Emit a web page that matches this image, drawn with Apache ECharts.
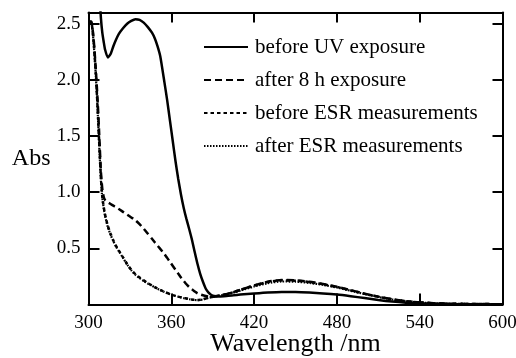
<!DOCTYPE html>
<html>
<head>
<meta charset="utf-8">
<script src="https://cdn.jsdelivr.net/npm/echarts@6/dist/echarts.min.js"></script>
<style>
  html, body { margin: 0; padding: 0; background: #fff; }
  #chart { width: 516px; height: 358px; }
</style>
</head>
<body>
<div id="chart"></div>
<script>
var wavelength = [300, 302, 303, 304, 305, 306, 307, 308, 309, 310, 311, 312, 314, 316, 318, 320, 322, 325, 328, 331,
  334, 337, 340, 343, 346, 348, 350, 352, 355, 357, 359, 361, 363, 365, 367, 369, 371, 373, 375, 377,
  379, 381, 383, 385, 387, 389, 391, 395, 400, 405, 410, 420, 430, 440, 450, 460, 470, 480, 490, 500,
  510, 520, 530, 540, 550, 560, 580, 600];

// off-scale below 306 nm
var beforeUV = [null, null, null, null, null, 3.3, 3.0, 2.75, 2.55, 2.42, 2.34, 2.27, 2.20, 2.23, 2.30, 2.36, 2.41, 2.46, 2.50, 2.525,
  2.54, 2.535, 2.51, 2.47, 2.42, 2.37, 2.30, 2.21, 1.98, 1.82, 1.64, 1.46, 1.28, 1.12, 0.98, 0.86, 0.76, 0.67, 0.575, 0.465,
  0.36, 0.27, 0.20, 0.14, 0.105, 0.085, 0.075, 0.072, 0.076, 0.082, 0.088, 0.098, 0.107, 0.112, 0.111, 0.106, 0.099, 0.089, 0.074, 0.057,
  0.04, 0.026, 0.016, 0.01, 0.006, 0.004, 0.002, 0.001];

var after8h = [2.52, 2.52, 2.45, 2.32, 2.15, 1.95, 1.72, 1.45, 1.18, 1.03, 0.96, 0.93, 0.91, 0.895, 0.88, 0.865, 0.85, 0.825, 0.80, 0.775,
  0.75, 0.715, 0.675, 0.63, 0.585, 0.555, 0.525, 0.495, 0.45, 0.415, 0.38, 0.345, 0.31, 0.275, 0.24, 0.21, 0.18, 0.155, 0.135, 0.115,
  0.10, 0.09, 0.082, 0.075, 0.07, 0.068, 0.07, 0.078, 0.092, 0.11, 0.13, 0.17, 0.203, 0.218, 0.215, 0.202, 0.182, 0.158, 0.128, 0.097,
  0.07, 0.047, 0.03, 0.019, 0.012, 0.008, 0.004, 0.003];

var beforeESR = [2.52, 2.51, 2.44, 2.30, 2.12, 1.90, 1.65, 1.38, 1.13, 0.96, 0.87, 0.80, 0.70, 0.63, 0.57, 0.52, 0.48, 0.42, 0.36, 0.31,
  0.27, 0.24, 0.215, 0.19, 0.17, 0.155, 0.142, 0.13, 0.113, 0.103, 0.093, 0.084, 0.077, 0.07, 0.064, 0.058, 0.053, 0.048, 0.044, 0.041,
  0.04, 0.042, 0.047, 0.053, 0.06, 0.066, 0.072, 0.08, 0.093, 0.11, 0.13, 0.168, 0.2, 0.215, 0.212, 0.2, 0.18, 0.156, 0.126, 0.096,
  0.069, 0.046, 0.029, 0.018, 0.011, 0.007, 0.004, 0.003];

var afterESR = [2.53, 2.51, 2.43, 2.28, 2.10, 1.88, 1.62, 1.35, 1.10, 0.95, 0.86, 0.79, 0.69, 0.62, 0.565, 0.515, 0.475, 0.415, 0.355, 0.305,
  0.265, 0.235, 0.21, 0.187, 0.167, 0.153, 0.14, 0.128, 0.111, 0.101, 0.092, 0.083, 0.076, 0.069, 0.063, 0.057, 0.052, 0.047, 0.043, 0.04,
  0.039, 0.041, 0.046, 0.052, 0.059, 0.065, 0.07, 0.078, 0.09, 0.105, 0.124, 0.16, 0.19, 0.205, 0.203, 0.192, 0.174, 0.151, 0.122, 0.093,
  0.067, 0.045, 0.028, 0.018, 0.011, 0.007, 0.004, 0.003];

var seriesNames = ['before UV exposure', 'after 8 h exposure', 'before ESR measurements', 'after ESR measurements'];
var xTicks = [300, 360, 420, 480, 540, 600];

var font = 'Liberation Serif';

function pairs(ys) {
  return wavelength.map(function (x, i) { return [x, ys[i]]; });
}

function yLabel(v) {
  if (v === 0 || Math.abs(v * 2 - Math.round(v * 2)) > 1e-6) return '';
  return v.toFixed(1);
}

var chart = echarts.init(document.getElementById('chart'), null, { renderer: 'canvas' });

var axisLine = { show: true, onZero: false, lineStyle: { color: '#000', width: 2 } };
var tick = { show: true, inside: true, length: 10, lineStyle: { color: '#000', width: 2 } };

function line(name, ys, type, width) {
  return {
    name: name,
    type: 'line',
    data: pairs(ys),
    symbol: 'none',
    smooth: 0.2,
    clip: true,
    lineStyle: { color: '#000', width: width, type: type, cap: 'butt' },
    itemStyle: { color: '#000' }
  };
}

chart.setOption({
  animation: false,
  backgroundColor: '#fff',
  grid: { left: 88.5, right: 13.5, top: 12.5, bottom: 53.5, containLabel: false, outerBoundsMode: 'none' },
  legend: {
    orient: 'vertical',
    left: 203,
    top: 36,
    padding: 0,
    itemWidth: 44,
    itemHeight: 14,
    itemGap: 11,
    itemStyle: { opacity: 0 },
    textStyle: { fontFamily: font, fontSize: 21, color: '#000', lineHeight: 22, padding: [0, 0, 0, 2] },
    data: seriesNames
  },
  xAxis: [{
    type: 'value',
    min: 300,
    max: 600,
    interval: 60,
    position: 'bottom',
    axisLine: axisLine,
    axisTick: Object.assign({}, tick, { length: 11 }),
    splitLine: { show: false },
    axisLabel: { color: '#000', fontFamily: font, fontSize: 19, margin: 9,
      formatter: function (v) { return xTicks.indexOf(v) >= 0 ? String(v) : ''; } },
    name: 'Wavelength /nm',
    nameLocation: 'middle',
    nameGap: 27,
    nameMoveOverlap: false,
    nameTextStyle: { color: '#000', fontFamily: font, fontSize: 26 }
  }, {
    type: 'value',
    min: 300,
    max: 600,
    interval: 60,
    position: 'top',
    axisLine: axisLine,
    axisTick: tick,
    splitLine: { show: false },
    axisLabel: { show: false }
  }],
  yAxis: [{
    type: 'value',
    min: 0,
    max: 2.6,
    interval: 0.5,
    position: 'left',
    axisLine: axisLine,
    axisTick: Object.assign({}, tick, { length: 11 }),
    splitLine: { show: false },
    axisLabel: { color: '#000', fontFamily: font, fontSize: 19, margin: 8, formatter: yLabel },
    name: 'Abs',
    nameLocation: 'middle',
    nameRotate: 0,
    nameGap: 38,
    nameMoveOverlap: false,
    nameTextStyle: { color: '#000', fontFamily: font, fontSize: 24, align: 'right', verticalAlign: 'middle', padding: [4, 0, 0, 0] }
  }, {
    type: 'value',
    min: 0,
    max: 2.6,
    interval: 0.5,
    position: 'right',
    axisLine: axisLine,
    axisTick: tick,
    splitLine: { show: false },
    axisLabel: { show: false }
  }],
  series: [
    line(seriesNames[0], beforeUV, 'solid', 2.5),
    line(seriesNames[1], after8h, [7, 4], 2.5),
    line(seriesNames[2], beforeESR, [3.5, 3], 2.5),
    line(seriesNames[3], afterESR, [1.5, 1.5], 2.2)
  ]
});
window.addEventListener('resize', function () { chart.resize(); });
</script>
</body>
</html>
